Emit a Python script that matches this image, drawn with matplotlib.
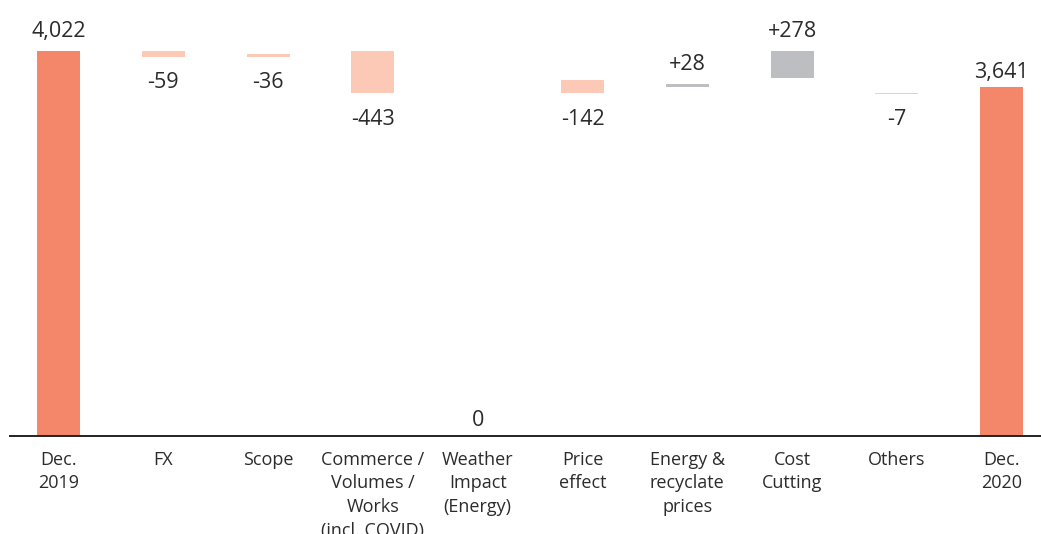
"""EBITDA bridge Dec. 2019 -> Dec. 2020 (waterfall)."""
import matplotlib
matplotlib.use("Agg")
import matplotlib.pyplot as plt

plt.rcParams["font.family"] = ["Open Sans", "DejaVu Sans"]

categories = ["Dec.\n2019", "FX", "Scope", "Commerce /\nVolumes /\nWorks\n(incl. COVID)",
              "Weather\nImpact\n(Energy)", "Price\neffect", "Energy &\nrecyclate\nprices",
              "Cost\nCutting", "Others", "Dec.\n2020"]
values = [4022, -59, -36, -443, 0, -142, 28, 278, -7, 3641]
kinds = ["total", "delta", "delta", "delta", "delta", "delta", "delta", "delta", "delta", "total"]
# lower edge of each bridge step as drawn
bar_base = [0, 3963, 3959, 3579, 0, 3579, 3649, 3744, 3572, 0]
labels = ["4,022", "-59", "-36", "-443", "0", "-142", "+28", "+278", "-7", "3,641"]

C_TOTAL = "#F4866A"
C_NEG = "#FCC9B7"
C_POS = "#BDBEC2"
C_TEXT = "#2B2B2B"

fig = plt.figure(figsize=(10.41, 5.34), dpi=100)
ax = fig.add_axes([10 / 1041, 98 / 534, 1 - 10 / 1041, 436 / 534])

x = list(range(len(categories)))
heights = [abs(v) for v in values]
colors = []
for k, v in zip(kinds, values):
    if k == "total":
        colors.append(C_TOTAL)
    elif v < 0:
        colors.append(C_NEG)
    else:
        colors.append(C_POS)

ax.bar(x, heights, bottom=bar_base, width=0.41, color=colors, linewidth=0)

for i, (v, b, lab, k) in enumerate(zip(values, bar_base, labels, kinds)):
    top = b + abs(v)
    if v < 0:
        ax.annotate(lab, (i, b), xytext=(0, -11), textcoords="offset points",
                    ha="center", va="top", fontsize=15.5, color=C_TEXT)
    elif v == 0:
        ax.annotate(lab, (i, 0), xytext=(0, 7.5), textcoords="offset points",
                    ha="center", va="baseline", fontsize=15.5, color=C_TEXT)
    else:
        off = 6.5 if i == len(values) - 1 else 10
        ax.annotate(lab, (i, top), xytext=(0, off), textcoords="offset points",
                    ha="center", va="baseline", fontsize=15.5, color=C_TEXT)

ax.set_xlim(-0.463, 9.375)
ax.set_ylim(0, 4555)
ax.set_xticks(x)
ax.set_xticklabels(categories, fontsize=13, color=C_TEXT, linespacing=1.42)
ax.tick_params(axis="x", length=0, pad=10.5)
ax.set_yticks([])
for s in ["top", "right", "left"]:
    ax.spines[s].set_visible(False)
ax.spines["bottom"].set_color("#222222")
ax.spines["bottom"].set_linewidth(1.4)

fig.savefig("out.png", dpi=100)
